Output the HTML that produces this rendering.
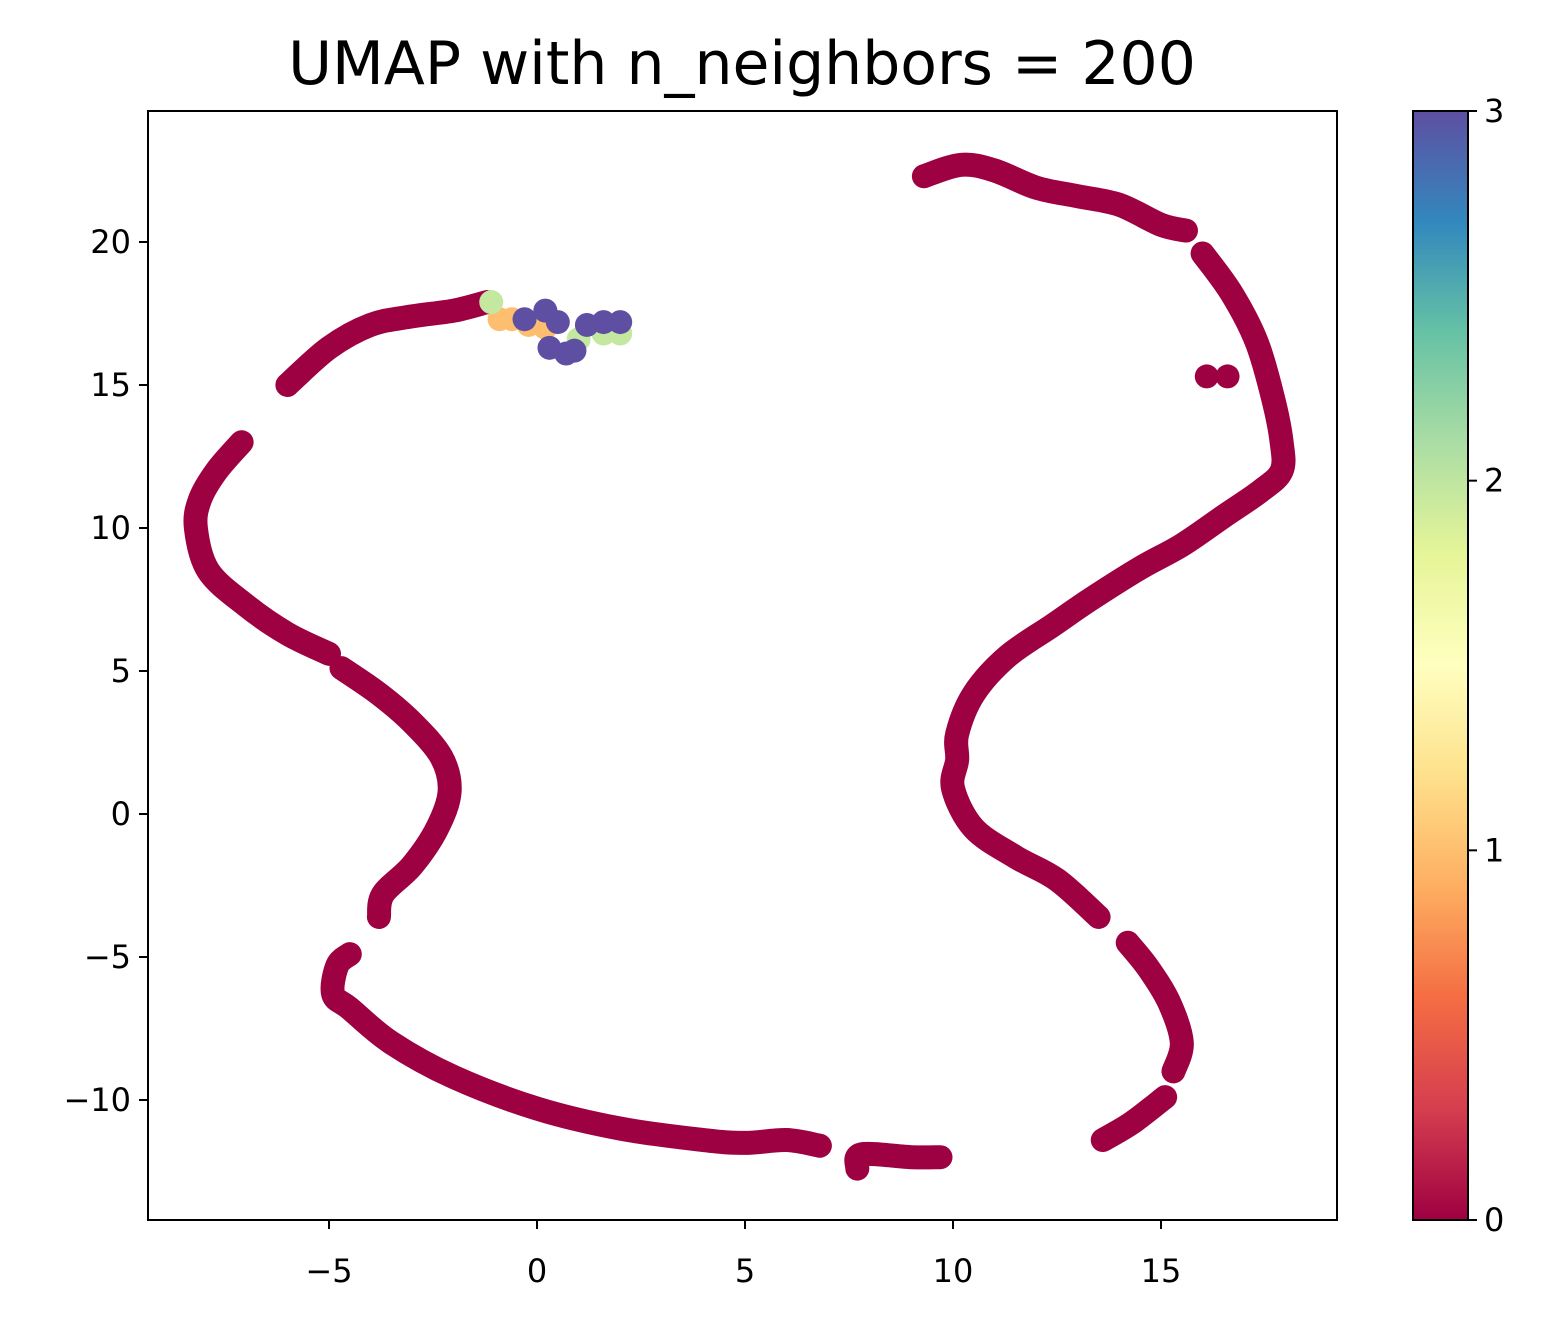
<!DOCTYPE html>
<html><head><meta charset="utf-8"><style>
body{margin:0;background:#fff;}
svg text{font-family:"DejaVu Sans","Liberation Sans",sans-serif;fill:#000;}
</style></head><body>
<svg id="chart" width="1553" height="1321" viewBox="0 0 1553 1321" xmlns="http://www.w3.org/2000/svg">
<defs><linearGradient id="spec" x1="0" y1="1" x2="0" y2="0">
<stop offset="0" stop-color="#9e0142"/><stop offset="0.1" stop-color="#d53e4f"/><stop offset="0.2" stop-color="#f46d43"/><stop offset="0.3" stop-color="#fdae61"/><stop offset="0.4" stop-color="#fee08b"/><stop offset="0.5" stop-color="#ffffbf"/><stop offset="0.6" stop-color="#e6f598"/><stop offset="0.7" stop-color="#abdda4"/><stop offset="0.8" stop-color="#66c2a5"/><stop offset="0.9" stop-color="#3288bd"/><stop offset="1" stop-color="#5e4fa2"/></linearGradient>
<clipPath id="clip"><rect x="148" y="111" width="1189" height="1109"/></clipPath></defs>
<text x="742" y="84" font-size="60" text-anchor="middle">UMAP with n_neighbors = 200</text>
<g id="plot" clip-path="url(#clip)"></g>
<rect x="148" y="111" width="1189" height="1109" fill="none" stroke="#000" stroke-width="2"/>
<g id="axes"></g>
<rect x="1413" y="111" width="55" height="1109" fill="url(#spec)" stroke="#000" stroke-width="2"/>
</svg>
<script>
const xTicks=[-5,0,5,10,15];
const yTicks=[-10,-5,0,5,10,15,20];
const cbTicks=[0,1,2,3];
const seg1=[[-6,15],[-5,16.3],[-4,17.1],[-3,17.4],[-2,17.6],[-1.2,17.9]];
const seg2=[[-7.1,13],[-7.7,12],[-8.1,11],[-8.2,10],[-7.9,8.5],[-7,7.3],[-6,6.3],[-5,5.6]];
const seg3=[[-4.7,5.1],[-3.8,4.2],[-3,3.2],[-2.3,2],[-2.1,0.8],[-2.4,-0.5],[-3,-1.8],[-3.7,-2.8],[-3.8,-3.6]];
const seg4=[[-4.5,-4.9],[-4.8,-5.3],[-4.9,-6.3],[-4.5,-6.8],[-3.5,-8],[-2,-9.2],[0,-10.3],[2,-11],[4,-11.4],[5,-11.5],[6,-11.4],[6.8,-11.6]];
const seg5=[[7.7,-12.4],[7.8,-11.9],[9,-12],[9.7,-12]];
const seg6=[[9.3,22.3],[10.2,22.7],[11,22.5],[12,21.9],[13,21.6],[14,21.3],[15,20.6],[15.6,20.4]];
const seg7=[[16,19.6],[16.7,18.2],[17.3,16.5],[17.7,14.5],[17.9,13],[17.9,12],[17.4,11.3],[16.5,10.4],[15.5,9.4],[14.5,8.6],[13.3,7.5],[12.4,6.6],[11.3,5.5],[10.5,4.2],[10.1,2.8],[10.1,1.9],[10.0,0.9],[10.5,-0.5],[11.5,-1.5],[12.5,-2.3],[13.5,-3.6]];
const seg8=[[14.2,-4.5],[14.7,-5.4],[15.2,-6.6],[15.5,-8],[15.3,-9]];
const seg9=[[15.1,-9.9],[14.3,-10.8],[13.6,-11.4]];
const isolated=[[16.1,15.3],[16.6,15.3]];
const cls1=[[-0.9,17.3],[-0.6,17.3],[-0.2,17.1],[0.2,17.0]];
const cls2=[[-1.1,17.9],[1.0,16.6],[1.6,16.8],[2.0,16.8]];
const cls3=[[-0.3,17.3],[0.2,17.6],[0.5,17.2],[0.3,16.3],[0.7,16.1],[0.9,16.2],[1.2,17.1],[1.6,17.2],[2.0,17.2]];
const segments=[seg1,seg2,seg3,seg4,seg5,seg6,seg7,seg8,seg9];

const X=v=>537+v*41.6, Y=v=>814-v*28.6, CB=v=>1220-v*(1109/3);
const NS="http://www.w3.org/2000/svg";
const plot=document.getElementById('plot'), axes=document.getElementById('axes');
function mk(tag,attrs,parent){const e=document.createElementNS(NS,tag);for(const k in attrs)e.setAttribute(k,attrs[k]);parent.appendChild(e);return e;}
function smoothPath(s){
  const p=s.map(d=>[X(d[0]),Y(d[1])]);
  let d='M'+p[0][0]+','+p[0][1];
  for(let i=0;i<p.length-1;i++){
    const p0=p[Math.max(0,i-1)],p1=p[i],p2=p[i+1],p3=p[Math.min(p.length-1,i+2)];
    const c1=[p1[0]+(p2[0]-p0[0])/6,p1[1]+(p2[1]-p0[1])/6];
    const c2=[p2[0]-(p3[0]-p1[0])/6,p2[1]-(p3[1]-p1[1])/6];
    d+=' C'+c1[0]+','+c1[1]+' '+c2[0]+','+c2[1]+' '+p2[0]+','+p2[1];
  }
  return d;
}
segments.forEach(s=>{
  const p=mk('path',{d:smoothPath(s),fill:'none',stroke:'#9e0142','stroke-width':24,'stroke-linecap':'round','stroke-linejoin':'round'},plot);
  
  
});
function dots(arr,col,name){arr.forEach(d=>{
  const c=mk('circle',{cx:X(d[0]),cy:Y(d[1]),r:12,fill:col},plot);
  
  
});}
dots(isolated,'#9e0142','class0-point');
dots(cls1,'#fdbf6f','class1-point');
dots(cls2,'#c5e8a0','class2-point');
dots(cls3,'#5e4fa2','class3-point');
xTicks.forEach(v=>{
  mk('line',{x1:X(v),x2:X(v),y1:1220,y2:1229,stroke:'#000','stroke-width':2},axes);
  const t=mk('text',{x:X(v),y:1282,'font-size':32,'text-anchor':'middle'},axes);t.textContent=v<0?'\u2212'+(-v):v;
  
  
});
yTicks.forEach(v=>{
  mk('line',{x1:139,x2:148,y1:Y(v),y2:Y(v),stroke:'#000','stroke-width':2},axes);
  const t=mk('text',{x:131,y:Y(v)+11,'font-size':32,'text-anchor':'end'},axes);t.textContent=v<0?'\u2212'+(-v):v;
  
  
});
cbTicks.forEach(v=>{
  mk('line',{x1:1468,x2:1477,y1:CB(v),y2:CB(v),stroke:'#000','stroke-width':2},axes);
  const t=mk('text',{x:1484,y:CB(v)+11,'font-size':32},axes);t.textContent=v;
  
  
});
</script>
</body></html>
